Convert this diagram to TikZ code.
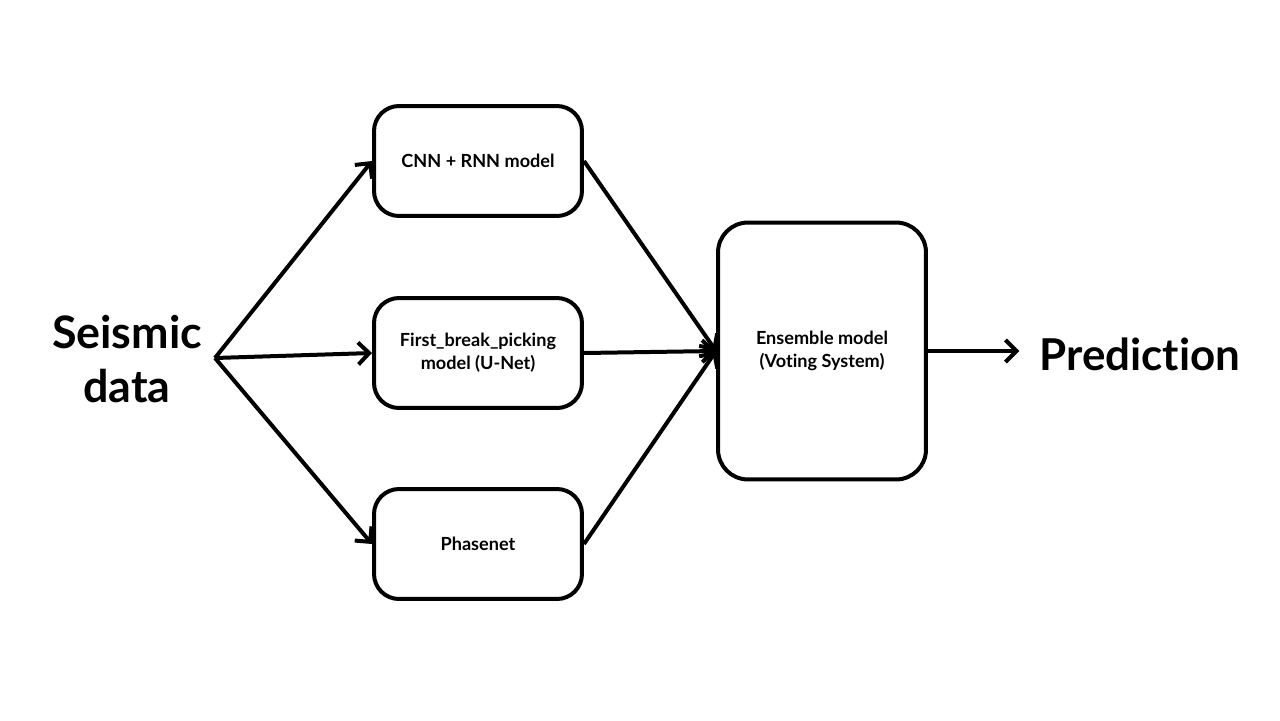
\documentclass[tikz,border=0pt]{standalone}
\usepackage{fontspec}
\setmainfont{Lato}[Ligatures=NoCommon]
\usetikzlibrary{arrows.meta}
\tikzset{
	model/.style={draw,line width=0.08cm,rounded corners=0.5cm,minimum width=4.16cm,minimum height=2.2cm,align=center,font=\bfseries\fontsize{10.3}{13}\selectfont},
	arr/.style={line width=0.08cm,-{Straight Barb[length=0.22cm,width=0.44cm,line width=0.08cm]}},
	big/.style={align=center,inner sep=0pt,font=\bfseries\fontsize{25.5}{31}\selectfont}
}
\begin{document}
\begin{tikzpicture}[x=0.02cm,y=-0.02cm]
	\useasboundingbox (0,0) rectangle (1280,720);
	\node[big] (seis) at (127,359) {Seismic\\data};
	\coordinate (fan) at (215,358);
	\node[model] (cnn) at (478,161) {CNN + RNN model};
	\node[model] (fbp) at (478,353) {First\_break\_picking\\model (U-Net)};
	\node[model] (phn) at (478,544) {Phasenet};
	\node[model,minimum height=5.14cm,rounded corners=0.6cm] (ens) at (822,351) {Ensemble model\\(Voting System)};
	\node[big,font=\bfseries\fontsize{25}{30}\selectfont] (pred) at (1140,354) {Prediction};
	\draw[arr] (fan) -- (cnn.west);
	\draw[arr] (fan) -- (fbp.west);
	\draw[arr] (fan) -- (phn.west);
	\draw[arr] (cnn.east) -- (ens.west);
	\draw[arr] (fbp.east) -- (ens.west);
	\draw[arr] (phn.east) -- (ens.west);
	\draw[arr,shorten >=0.4cm] (ens.east) -- (ens.east -| pred.west);
\end{tikzpicture}
\end{document}
